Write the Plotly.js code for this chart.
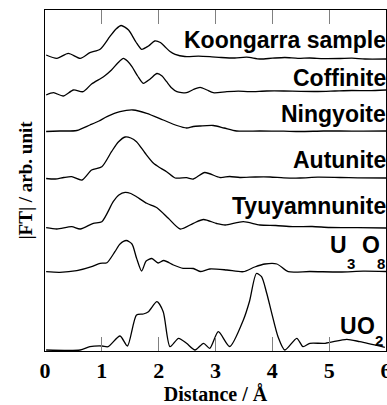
<!DOCTYPE html>
<html>
<head>
<meta charset="utf-8">
<script src="https://cdn.plot.ly/plotly-3.0.1.min.js"></script>
<style>html,body{margin:0;padding:0;background:#fff;}#chart{width:387px;height:405px;} #done{position:absolute;left:0;top:0;width:1px;height:1px;font-size:1px;color:transparent;}</style>
</head>
<body>
<div id="chart"></div>
<div id="done"></div>
<script>
// Distance (Å) and |FT| (arb. unit, curves already offset vertically as in the figure)
const koongarraR = [0.02,0.21,0.41,0.62,0.79,0.97,1.14,1.25,1.34,1.47,1.60,1.70,1.82,1.93,2.03,2.11,2.20,2.29,2.46,2.70,2.90,3.10,3.34,3.55,3.78,4.00,4.22,4.45,4.66,4.90,5.19,5.40,5.63,6.00];
const koongarraFT = [296,292.7,297.7,292.7,298.3,301.7,314.3,322,325.5,321,309,301.7,305,310,308.5,304.3,299.5,296.7,294.5,294.8,294.3,293.5,293,293.8,292,292.8,293.5,292.6,293,292.4,292.5,292.8,292,292];

const coffiniteR = [0.02,0.15,0.32,0.50,0.67,0.82,1.03,1.17,1.28,1.38,1.45,1.53,1.63,1.73,1.85,1.97,2.06,2.14,2.23,2.32,2.49,2.61,2.73,2.85,2.96,3.20,3.40,3.60,3.90,4.20,4.50,4.80,5.10,5.40,5.70,6.00];
const coffiniteFT = [256,258.3,255,261,259.3,267,274.3,281,288,292.7,290,284.3,275,267.7,272,277.5,275,269.3,263,259.3,258.3,261.5,263.7,261,258.3,259.3,259.8,259.3,260,260,259.6,259.5,260,260.5,260.3,261];

const ningyoiteR = [0.02,0.26,0.56,0.79,0.95,1.09,1.32,1.55,1.79,2.08,2.32,2.49,2.61,2.73,2.96,3.15,3.37,3.78,4.20,4.49,4.90,5.19,5.60,6.00];
const ningyoiteFT = [219.5,220,220.5,226,230,234.3,239.3,241,237.7,231,225.5,223,224.5,225,225.5,223,220,220,219.8,219.5,220,220,219.8,220];

const autuniteR = [0.02,0.18,0.33,0.47,0.65,0.82,1.00,1.17,1.29,1.41,1.51,1.61,1.76,1.91,2.03,2.14,2.29,2.49,2.61,2.81,3.08,3.25,3.43,3.70,3.96,4.20,4.49,4.80,5.19,5.50,6.00];
const autuniteFT = [172.5,172,173.5,174.3,171,181,184.3,199.3,209,214,213,209.3,198,187.7,183,179.3,173,173.3,172,178.5,173.5,174.5,173.5,174,174,173.2,173,173.8,173.5,173.2,173];

const tyuyamnuniteR = [0.02,0.21,0.47,0.62,0.85,1.00,1.20,1.30,1.41,1.51,1.61,1.79,1.97,2.17,2.38,2.61,2.79,3.02,3.17,3.49,3.78,4.06,4.36,4.70,5.01,5.50,6.00];
const tyuyamnuniteFT = [123.3,122,124.3,122,127.7,129.3,149.3,156,158.7,157.5,154.3,147.7,143.3,132.7,122,127.7,131.5,127.5,126,129.3,126,125.5,124.3,124.5,123.5,123.3,123];

const u3o8R = [0.02,0.26,0.56,0.82,0.97,1.09,1.23,1.32,1.43,1.53,1.61,1.70,1.78,1.88,1.99,2.09,2.26,2.43,2.61,2.73,2.90,3.20,3.49,3.69,3.87,4.08,4.28,4.66,5.19,5.60,6.00];
const u3o8FT = [79.3,78.7,80.3,84.3,87.7,88.3,99.3,107,110.5,107,93,80,90,92.5,88,90.5,86,82.7,82.5,79.5,82,81,79.3,84,87,87,79.3,79.5,79,79.8,79.5];

const uo2R = [0.02,0.62,0.79,1.00,1.11,1.32,1.45,1.61,1.73,1.82,1.97,2.08,2.20,2.35,2.49,2.64,2.79,2.90,3.05,3.25,3.49,3.60,3.72,3.81,3.90,3.99,4.10,4.22,4.43,4.54,4.66,4.93,5.31,5.54,5.98];
const uo2FT = [1,1,4.3,5,4.3,15,5,36,37,39.3,49.3,39.3,4.3,12.7,7.7,1,7.7,2.7,19.3,4.5,31,50,77.5,74.3,58,37.7,14.3,1,12.7,4.3,7.7,7.7,11.7,9.3,3.7];

const seriesNames = ["Koongarra sample","Coffinite","Ningyoite","Autunite","Tyuyamnunite","U3O8","UO2"];
const seriesR = [koongarraR,coffiniteR,ningyoiteR,autuniteR,tyuyamnuniteR,u3o8R,uo2R];
const seriesFT = [koongarraFT,coffiniteFT,ningyoiteFT,autuniteFT,tyuyamnuniteFT,u3o8FT,uo2FT];

const xTickVals = [0,1,2,3,4,5,6];
const xTickText = ["0","1","2","3","4","5","6"];

const traces = seriesNames.map((n,i)=>({
  type:'scatter', mode:'lines', name:n, x:seriesR[i], y:seriesFT[i],
  line:{color:'#000', width:1.3, shape:'spline', smoothing:0.7},
  hoverinfo:'skip', showlegend:false
}));

const labelFont = {family:'"Liberation Sans", Arial, sans-serif', size:23, color:'#000', weight:700};
const subFont = {family:'"Liberation Sans", Arial, sans-serif', size:15, color:'#000', weight:700};
function lab(text, x, y, xanchor, font){
  return {text:text, x:x, y:y, xref:'x', yref:'y', xanchor:xanchor, yanchor:'middle',
    showarrow:false, font:Object.assign({}, font), borderpad:0, borderwidth:0};
}
const annotations = [
  lab('Koongarra sample', 6, 311.5, 'right', labelFont),
  lab('Coffinite', 6, 273.2, 'right', labelFont),
  lab('Ningyoite', 6, 237.5, 'right', labelFont),
  lab('Autunite', 6, 190.9, 'right', labelFont),
  lab('Tyuyamnunite', 6, 145.2, 'right', labelFont),
  lab('U', 5.013, 105.9, 'left', labelFont),
  lab('3', 5.312, 88, 'left', subFont),
  lab('O', 5.571, 105.9, 'left', labelFont),
  lab('8', 5.835, 88, 'left', subFont),
  lab('U', 5.189, 25.2, 'left', labelFont),
  lab('O', 5.488, 25.2, 'left', labelFont),
  lab('2', 5.805, 11, 'left', subFont)
];

const serif = '"Liberation Serif", "Times New Roman", serif';
const layout = {
  width:387, height:405,
  margin:{l:45, r:1, t:10, b:54},
  paper_bgcolor:'#fff', plot_bgcolor:'#fff',
  showlegend:false,
  xaxis:{
    range:[0,6], tickmode:'array', tickvals:xTickVals, ticktext:xTickText,
    ticks:'inside', ticklen:14, tickwidth:1, tickcolor:'#808080',
    showline:true, linecolor:'#000', linewidth:1, mirror:'ticks',
    showgrid:false, zeroline:false, ticklabeloverflow:'allow',
    tickfont:{family:serif, size:22, color:'#000', weight:700},
    title:{text:'Distance / Å', font:{family:serif, size:20, color:'#000', weight:700}, standoff:2}
  },
  yaxis:{
    range:[0,341], showticklabels:false, ticks:'',
    showline:true, linecolor:'#000', linewidth:1, mirror:true,
    showgrid:false, zeroline:false,
    title:{text:'|FT| / arb. unit', font:{family:serif, size:19, color:'#000', weight:700}, standoff:6}
  },
  annotations:annotations
};
Plotly.newPlot('chart', traces, layout, {staticPlot:true, displayModeBar:false}).then(()=>{
  const xl = document.querySelector('.xlines-above');
  document.getElementById('done').textContent = (xl && xl.getAttribute('d')) ? '\u00a0' : '\u00a0';
}).catch(()=>{});
</script>
</body>
</html>
